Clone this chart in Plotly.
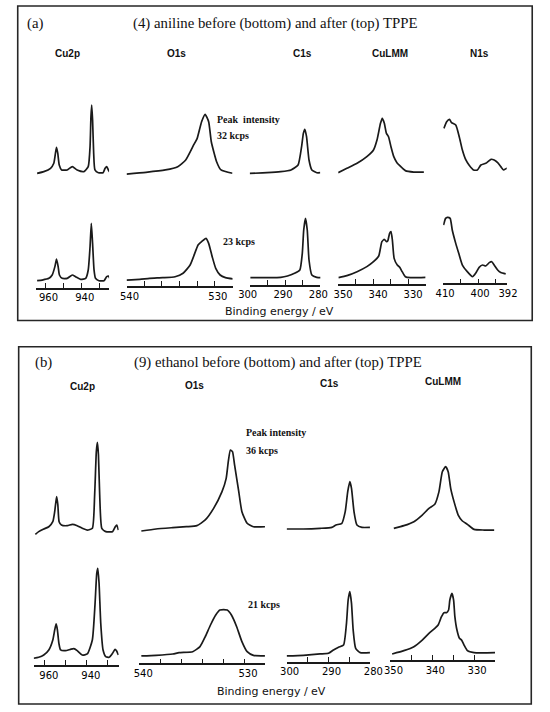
import plotly.graph_objects as go

# ---- data: binding energy (eV) and intensity (arb. units) ----
# panel (a): (4) aniline, top = after TPPE, bottom = before
A_CU2P_TOP_BE = [964.6, 960.9, 957.2, 955.4, 954.5, 953.9, 953.2, 952.4, 951.1, 948.0, 945.2, 942.5, 938.8,
                 936.4, 935.4, 934.9, 934.5, 934.0, 933.4, 932.7, 930.8, 928.2, 927.1, 926.2, 925.3, 924.7]
A_CU2P_TOP_I = [2.5, 4.3, 7.8, 13.1, 23.6, 29.9, 23.6, 11.3, 6.1, 6.1, 9.6, 6.1, 4.3,
                9.6, 30.6, 62.2, 74.5, 58.7, 23.6, 6.1, 3.2, 3.2, 7.8, 9.6, 6.1, 4.3]
A_O1S_TOP_BE = [540.0, 537.8, 535.6, 534.2, 533.3, 532.4, 532.0, 531.5, 531.1, 530.7, 530.4, 529.8, 529.3, 528.0]
A_O1S_TOP_I = [1.8, 3.6, 6.1, 9.5, 16.6, 32.4, 39.4, 56.9, 64.7, 56.9, 35.8, 14.8, 6.1, 2.6]
A_C1S_TOP_BE = [300.0, 295.1, 291.2, 288.3, 286.3, 285.3, 284.8, 284.4, 283.9, 283.2, 282.4, 281.0, 280.0]
A_C1S_TOP_I = [2.5, 3.2, 4.3, 6.1, 11.3, 30.6, 44.6, 48.9, 41.1, 16.6, 6.1, 3.2, 3.2]
A_CULMM_TOP_BE = [350.0, 347.5, 344.6, 341.8, 339.9, 338.9, 337.9, 337.4, 336.8, 336.2, 335.6, 334.9, 334.1,
                  333.2, 332.3, 330.8, 328.4, 325.5]
A_CULMM_TOP_I = [3.2, 7.8, 13.1, 20.1, 27.1, 37.6, 55.2, 60.4, 55.2, 44.6, 41.1, 30.6, 20.1,
                 13.8, 10.3, 5.4, 3.9, 3.9]
A_N1S_TOP_BE = [409.8, 409.0, 408.2, 407.6, 406.4, 405.4, 404.5, 403.5, 402.6, 401.3, 400.2, 399.2, 397.8,
                396.3, 395.4, 394.4, 393.5, 392.7, 391.8, 391.1]
A_N1S_TOP_I = [49.9, 56.9, 59.4, 55.9, 53.4, 41.1, 27.1, 16.6, 11.3, 6.1, 6.1, 11.3, 13.1,
               17.3, 16.6, 13.8, 9.6, 6.1, 7.8, 6.1]

A_CU2P_BOT_BE = [964.6, 961.8, 958.1, 956.3, 954.8, 953.9, 953.0, 952.3, 950.8, 948.0, 945.2, 943.4, 940.6,
                 937.8, 936.4, 935.4, 934.7, 934.0, 933.2, 932.4, 930.5, 927.7, 926.2, 925.3, 924.5]
A_CU2P_BOT_I = [4.0, 4.7, 6.5, 10.0, 18.8, 26.8, 18.8, 10.0, 6.5, 6.5, 10.0, 8.2, 5.4,
                6.5, 15.3, 39.8, 64.4, 43.3, 15.3, 6.5, 4.0, 4.0, 8.2, 8.9, 6.5]
A_O1S_BOT_BE = [540.0, 538.5, 537.4, 535.9, 534.5, 533.6, 532.8, 532.2, 531.9, 531.5, 531.0, 530.7, 530.3,
                529.9, 529.4, 528.8, 527.9]
A_O1S_BOT_I = [4.7, 5.4, 6.5, 7.2, 8.2, 11.8, 20.5, 34.6, 41.6, 45.1, 48.6, 43.3, 29.3,
               17.0, 10.0, 7.2, 5.8]
A_C1S_BOT_BE = [299.8, 295.1, 291.2, 289.3, 287.3, 285.8, 285.1, 284.7, 284.2, 283.7, 283.2, 282.4, 281.0, 279.5]
A_C1S_BOT_I = [7.2, 7.2, 7.5, 8.9, 11.8, 15.3, 32.8, 57.4, 69.6, 57.4, 25.8, 10.0, 7.5, 7.2]
A_CULMM_BOT_BE = [349.9, 347.5, 344.6, 341.8, 339.9, 338.4, 337.5, 336.8, 336.2, 335.8, 335.3, 334.9, 334.5,
                  334.0, 333.1, 332.4, 331.7, 330.8, 329.3, 325.0]
A_CULMM_BOT_I = [7.2, 9.3, 13.5, 18.8, 24.0, 30.0, 45.1, 47.5, 45.1, 46.1, 53.9, 55.6, 46.8,
                 27.5, 20.5, 18.1, 13.5, 8.2, 7.2, 7.5]
A_N1S_BOT_BE = [409.9, 409.3, 408.8, 408.0, 407.4, 406.4, 405.4, 404.5, 403.1, 401.6, 400.7, 399.7, 398.7,
                397.8, 396.8, 396.1, 395.4, 394.4, 393.5, 392.1]
A_N1S_BOT_I = [62.6, 69.6, 70.7, 69.6, 57.4, 43.3, 31.1, 20.5, 13.5, 8.2, 11.8, 18.1, 20.5,
               19.5, 23.0, 24.0, 20.5, 15.3, 12.5, 11.1]

# panel (b): (9) ethanol
B_CU2P_TOP_BE = [964.5, 962.9, 960.5, 958.1, 956.2, 955.3, 954.4, 953.8, 953.2, 952.1, 949.3, 946.9, 944.6,
                 942.2, 939.8, 937.4, 936.3, 935.5, 935.0, 934.5, 933.9, 932.9, 931.0, 927.8, 926.5, 925.8, 925.0]
B_CU2P_TOP_I = [0.2, 3.0, 5.8, 8.2, 13.5, 24.0, 39.8, 31.1, 13.5, 10.0, 9.3, 10.7, 9.3,
                6.5, 4.7, 6.5, 41.6, 87.2, 97.0, 83.7, 41.6, 6.5, 3.0, 3.0, 8.2, 10.0, 4.7]
B_O1S_TOP_BE = [539.8, 538.4, 536.8, 535.5, 534.5, 533.7, 532.9, 532.1, 531.7, 531.5, 531.3, 531.1, 530.9,
                530.5, 530.2, 529.7, 529.1, 527.9]
B_O1S_TOP_I = [3.7, 5.8, 7.2, 8.2, 9.3, 15.3, 27.5, 45.1, 59.1, 76.7, 88.9, 87.2, 73.2,
               45.1, 24.0, 11.8, 8.2, 8.2]
B_C1S_TOP_BE = [300.0, 296.0, 292.0, 289.2, 288.2, 286.8, 286.0, 285.4, 284.9, 284.5, 283.9, 283.2, 282.0, 280.1]
B_C1S_TOP_I = [5.8, 5.8, 6.5, 7.5, 10.0, 11.8, 24.0, 45.1, 55.6, 48.6, 24.0, 10.0, 7.5, 7.5]
B_CULMM_TOP_BE = [349.2, 346.8, 344.4, 342.4, 340.8, 339.4, 338.4, 337.6, 336.8, 336.2, 335.6, 334.8, 333.8,
                  332.8, 331.6, 330.0, 327.6, 325.2]
B_CULMM_TOP_I = [6.5, 9.3, 13.5, 20.5, 27.5, 31.8, 45.1, 66.1, 71.4, 66.1, 48.6, 34.6, 20.5,
                 14.2, 10.7, 5.4, 4.7, 4.7]

B_CU2P_BOT_BE = [965.3, 962.9, 960.5, 958.1, 956.2, 955.3, 954.6, 954.0, 953.3, 952.5, 950.2, 947.8, 946.2,
                 944.6, 942.2, 939.8, 937.4, 936.1, 935.3, 934.8, 934.2, 933.4, 932.3, 931.0, 929.4, 927.8,
                 926.6, 925.9, 925.0]
B_CU2P_BOT_I = [0.0, 1.0, 3.4, 8.7, 19.2, 29.7, 36.1, 29.7, 15.7, 8.7, 8.0, 9.4, 10.1,
                8.0, 3.4, 4.5, 19.2, 57.8, 89.4, 94.6, 78.9, 36.8, 8.7, 1.7, 1.0, 5.2,
                9.4, 8.0, 3.4]
B_O1S_BOT_BE = [539.8, 538.4, 536.8, 536.2, 534.9, 534.2, 533.7, 533.2, 532.7, 532.3, 531.6, 531.2, 530.7,
                530.2, 529.7, 529.1, 528.0]
B_O1S_BOT_I = [2.4, 3.1, 4.5, 5.9, 6.9, 12.2, 22.7, 35.0, 45.5, 50.8, 50.8, 45.5, 33.2,
               17.5, 6.9, 3.1, 2.4]
B_C1S_BOT_BE = [300.0, 296.0, 292.0, 290.0, 288.8, 287.6, 286.4, 285.7, 285.3, 284.9, 284.5, 284.1, 283.5,
                282.4, 280.1]
B_C1S_BOT_I = [2.4, 3.1, 4.5, 5.2, 8.7, 11.5, 13.9, 36.8, 61.3, 70.1, 57.8, 29.7, 10.4,
               5.9, 5.9]
B_CULMM_BOT_BE = [349.6, 346.8, 344.4, 342.4, 340.8, 339.4, 338.6, 337.8, 337.2, 336.6, 336.1, 335.8, 335.3,
                  334.9, 334.6, 334.1, 333.5, 333.0, 332.4, 331.6, 330.0, 325.0]
B_CULMM_BOT_I = [4.5, 8.0, 12.2, 19.2, 26.2, 31.5, 35.0, 43.8, 48.0, 48.0, 50.8, 61.3, 68.3,
                 61.3, 43.8, 29.7, 21.0, 19.2, 13.9, 8.0, 5.9, 5.9]

# tick values / labels of each energy axis
CU2P_TICKS = [960, 950, 940, 930]
CU2P_LABELS = ["960", "", "940", ""]
O1S_TICKS = [540, 538, 536, 534, 532, 530]
O1S_LABELS = ["540", "", "", "", "", "530"]
C1S_TICKS = [300, 295, 290, 285, 280]
C1S_LABELS = ["300", "", "290", "", "280"]
CULMM_TICKS = [350, 345, 340, 335, 330]
CULMM_LABELS = ["350", "", "340", "", "330"]
N1S_TICKS = [410, 405, 400, 395, 392]
N1S_LABELS = ["410", "", "400", "", "392"]

TITLE_A = "(4) aniline before (bottom) and after (top) TPPE"
TITLE_B = "(9) ethanol before (bottom) and after (top) TPPE"
KCPS_A = ["Peak  intensity", "32 kcps", "23 kcps"]
KCPS_B = ["Peak intensity", "36 kcps", "21 kcps"]

# ---- layout (pixel geometry of the page) ----
W, H = 550, 712
PPU = 0.95  # pixels per intensity unit
INK = "#1a1a1a"
SERIF = "Liberation Serif"
SANS = "Liberation Sans"
TICKFONT = "DejaVu Sans"


def px(x):
    return x / W


def py(y):
    return 1 - y / H


RANGES = {"Cu2p": (965.3, 924.9), "O1s": (540, 528), "C1s": (300, 280),
          "CuLMM": (350, 325), "N1s": (410, 391.8)}
TICKSETS = {"Cu2p": (CU2P_TICKS, CU2P_LABELS), "O1s": (O1S_TICKS, O1S_LABELS),
            "C1s": (C1S_TICKS, C1S_LABELS), "CuLMM": (CULMM_TICKS, CULMM_LABELS),
            "N1s": (N1S_TICKS, N1S_LABELS)}

A_XPIX = {"Cu2p": (25, 101.7), "O1s": (120, 231), "C1s": (249, 323),
          "CuLMM": (341.7, 433.3), "N1s": (451.7, 518.3)}
B_XPIX = {"Cu2p": (22.7, 111.7), "O1s": (133.3, 265), "C1s": (287.7, 375.4),
          "CuLMM": (396.5, 506)}
A_AXIS_Y = {"Cu2p": 287.7, "O1s": 286, "C1s": 284.5, "CuLMM": 284, "N1s": 283.3}
B_AXIS_Y = {"Cu2p": 665, "O1s": 663.3, "C1s": 661.7, "CuLMM": 660}
# tick label nudge in px along the (reversed) axis: negative moves a label to the right.
# C1s / CuLMM of panel (a) are pushed apart so 280 and 350 do not collide
A_SHIFT = {"Cu2p": -3, "O1s": -3, "C1s": 2, "CuLMM": -5, "N1s": -2}
B_SHIFT = {"Cu2p": -4, "O1s": -4, "C1s": -3, "CuLMM": -3}
A_ZERO = (175.75, 284.5)   # pixel row of intensity 0, top / bottom row
B_ZERO = (534.5, 658.25)

fig = go.Figure()
layout_axes = {}
count = 0


def add_spectrum(be, inten, col, xpix, zero, axis_y=None, shift=0):
    global count
    count += 1
    sfx = "" if count == 1 else str(count)
    fig.add_trace(go.Scatter(
        x=be, y=inten, xaxis="x" + sfx, yaxis="y" + sfx, mode="lines",
        line=dict(color=INK, width=1.7, shape="spline", smoothing=0.5),
        hoverinfo="skip", showlegend=False))
    bottom = axis_y if axis_y is not None else zero + 10
    top = bottom - 120
    layout_axes["yaxis" + sfx] = dict(domain=[py(bottom), py(top)],
                                      range=[(zero - bottom) / PPU, (zero - top) / PPU],
                                      visible=False, fixedrange=True)
    r0, r1 = RANGES[col]
    xa = dict(domain=[px(xpix[0]), px(xpix[1])], range=[r0, r1], anchor="y" + sfx,
              showgrid=False, zeroline=False, fixedrange=True)
    if axis_y is None:
        xa["visible"] = False
    else:
        ticks, labels = TICKSETS[col]
        vals, texts = list(ticks), list(labels)
        for end in (r0, r1):
            if min(abs(end - t) for t in ticks) > 0.5:
                vals.append(end)
                texts.append("")
        xa.update(showline=True, linecolor=INK, linewidth=1.5, ticks="inside", ticklen=5,
                  tickwidth=1.4, tickcolor=INK, tickmode="array", tickvals=vals, ticktext=texts,
                  tickfont=dict(family=TICKFONT, size=10, color="#000"), ticklabelshift=shift)
    layout_axes["xaxis" + sfx] = xa


panel_a = [
    ("Cu2p", A_CU2P_TOP_BE, A_CU2P_TOP_I, A_CU2P_BOT_BE, A_CU2P_BOT_I),
    ("O1s", A_O1S_TOP_BE, A_O1S_TOP_I, A_O1S_BOT_BE, A_O1S_BOT_I),
    ("C1s", A_C1S_TOP_BE, A_C1S_TOP_I, A_C1S_BOT_BE, A_C1S_BOT_I),
    ("CuLMM", A_CULMM_TOP_BE, A_CULMM_TOP_I, A_CULMM_BOT_BE, A_CULMM_BOT_I),
    ("N1s", A_N1S_TOP_BE, A_N1S_TOP_I, A_N1S_BOT_BE, A_N1S_BOT_I),
]
panel_b = [
    ("Cu2p", B_CU2P_TOP_BE, B_CU2P_TOP_I, B_CU2P_BOT_BE, B_CU2P_BOT_I),
    ("O1s", B_O1S_TOP_BE, B_O1S_TOP_I, B_O1S_BOT_BE, B_O1S_BOT_I),
    ("C1s", B_C1S_TOP_BE, B_C1S_TOP_I, B_C1S_BOT_BE, B_C1S_BOT_I),
    ("CuLMM", B_CULMM_TOP_BE, B_CULMM_TOP_I, B_CULMM_BOT_BE, B_CULMM_BOT_I),
]

for col, tb, ti, bb, bi in panel_a:
    add_spectrum(tb, ti, col, A_XPIX[col], A_ZERO[0])
    add_spectrum(bb, bi, col, A_XPIX[col], A_ZERO[1], A_AXIS_Y[col], A_SHIFT[col])
for col, tb, ti, bb, bi in panel_b:
    add_spectrum(tb, ti, col, B_XPIX[col], B_ZERO[0])
    add_spectrum(bb, bi, col, B_XPIX[col], B_ZERO[1], B_AXIS_Y[col], B_SHIFT[col])

annotations = []


def text(x, y, s, family, size, xanchor="center", bold=False):
    annotations.append(dict(
        x=px(x), y=py(y), xref="paper", yref="paper", text=f"<b>{s}</b>" if bold else s,
        showarrow=False, xanchor=xanchor, yanchor="middle",
        font=dict(family=family, size=size, color="#111")))


# panel (a) texts
text(24.5, 24, "(a)", SERIF, 14.8)
text(276, 24, TITLE_A, SERIF, 14.8)
for name, xc in zip(["Cu2p", "O1s", "C1s", "CuLMM", "N1s"], [57.9, 172, 304.6, 395.8, 489.5]):
    text(xc, 53.5, name, SANS, 10, bold=True)
text(213, 119.5, KCPS_A[0], SERIF, 10, "left", True)
text(213, 135, KCPS_A[1], SERIF, 10, "left", True)
text(219, 241, KCPS_A[2], SERIF, 10, "left", True)
text(280.7, 311, "Binding energy / eV", TICKFONT, 11)

# panel (b) texts
text(32.5, 362, "(b)", SERIF, 14.8)
text(279, 362, TITLE_B, SERIF, 14.8)
for name, xc, yc in zip(["Cu2p", "O1s", "C1s", "CuLMM"], [73.7, 191, 333, 451], [386.7, 385, 383.3, 381.7]):
    text(xc, yc, name, SANS, 10, bold=True)
text(243.5, 432.7, KCPS_B[0], SERIF, 10, "left", True)
text(243.5, 450, KCPS_B[1], SERIF, 10, "left", True)
text(245.6, 604, KCPS_B[2], SERIF, 10, "left", True)
text(272, 691.7, "Binding energy / eV", TICKFONT, 11)

shapes = [
    dict(type="rect", xref="paper", yref="paper", x0=px(6), x1=px(545), y0=py(320.5), y1=py(6),
         line=dict(color="#262626", width=1.6)),
    dict(type="rect", xref="paper", yref="paper", x0=px(7), x1=px(544), y0=py(704), y1=py(346.7),
         line=dict(color="#262626", width=1.6)),
]

fig.update_layout(
    width=W, height=H, margin=dict(l=0, r=0, t=0, b=0),
    paper_bgcolor="white", plot_bgcolor="rgba(0,0,0,0)",
    showlegend=False, annotations=annotations, shapes=shapes, **layout_axes)

# the page's default body margin would push the 550x712 figure off the window
fig.write_html("out.html", config={"displayModeBar": False},
               post_script="document.body.style.margin='0';"
                           "document.documentElement.style.overflow='hidden';")
